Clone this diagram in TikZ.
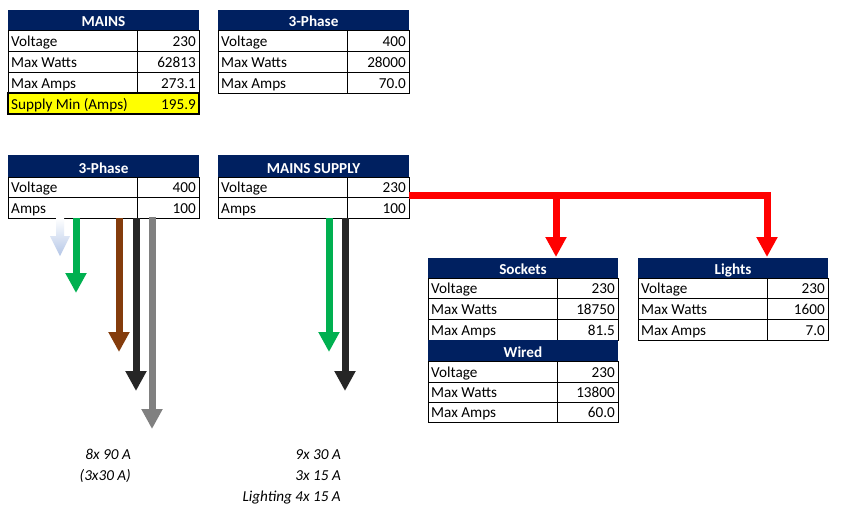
\documentclass[tikz,border=0pt]{standalone}
\usepackage{fontspec}
\setmainfont{Carlito}
\usetikzlibrary{arrows.meta}
\definecolor{navy}{HTML}{002060}
\definecolor{xgreen}{HTML}{00B050}
\definecolor{xbrown}{HTML}{843C0C}
\definecolor{xblack}{HTML}{262626}
\definecolor{xgray}{HTML}{808080}
\definecolor{xblue}{HTML}{B4C6E7}
\definecolor{xyellow}{HTML}{FFFF00}
\definecolor{xred}{HTML}{FF0000}
% header: name, x1, x2, ytop, ybot, title
\newcommand{\thead}[6]{\fill[navy] (#2,#4) rectangle (#3,#5);
  \node[hdrtext] (#1) at ({(#2+#3)/2},#5-4) {#6};}
% row: name, x1, xdiv, x2, ytop, ybot, label, value
\newcommand{\trow}[8]{\draw[cell] (#2,#5) rectangle (#4,#6);
  \draw[cell] (#3,#5) -- (#3,#6);
  \node[lbl] (#1l) at (#2+3,#6-4.5) {#7};
  \node[val] (#1v) at (#4-3,#6-4.5) {#8};}
\begin{document}
\begin{tikzpicture}[x=1pt,y=-1pt,
  cell/.style={draw=black, line width=0.9pt},
  hdrtext/.style={anchor=base, text=white, inner sep=0pt, font=\fontsize{15.2}{17}\selectfont\bfseries},
  lbl/.style={anchor=base west, inner sep=0pt, font=\fontsize{15.2}{17}\selectfont},
  val/.style={anchor=base east, inner sep=0pt, font=\fontsize{15.2}{17}\selectfont},
  note/.style={anchor=base east, inner sep=0pt, font=\fontsize{15.2}{17}\selectfont\itshape},
  wire/.style={line width=7pt, -{Triangle[width=20pt,length=20pt]}},
  feed/.style={line width=7pt, draw=xred, -{Triangle[width=20pt,length=20pt]}},
]
\useasboundingbox (0,0) rectangle (851,523);
\fill[white] (0,0) rectangle (851,523);

% ---- MAINS (top left)
\thead{mainsH}{8}{199}{10}{30}{MAINS}
\trow{mA}{8}{137}{199}{30}{51}{Voltage}{230}
\trow{mB}{8}{137}{199}{51}{72}{Max Watts}{62813}
\trow{mC}{8}{137}{199}{72}{93}{Max Amps}{273.1}
\filldraw[fill=xyellow, draw=black, line width=1.6pt] (8,93) rectangle (199,114);
\node[lbl] (mDl) at (11,109.5) {Supply Min (Amps)};
\node[val] (mDv) at (196,109.5) {195.9};

% ---- 3-Phase (top right)
\thead{tpH}{218}{409}{10}{30}{3-Phase}
\trow{tA}{218}{347}{409}{30}{51}{Voltage}{400}
\trow{tB}{218}{347}{409}{51}{72}{Max Watts}{28000}
\trow{tC}{218}{347}{409}{72}{93}{Max Amps}{70.0}

% ---- 3-Phase (supply)
\thead{tsH}{8}{199}{155}{177}{3-Phase}
\trow{sA}{8}{137}{199}{177}{197}{Voltage}{400}
\trow{sB}{8}{137}{199}{197}{218}{Amps}{100}

% ---- MAINS SUPPLY
\thead{msH}{218}{409}{155}{177}{MAINS SUPPLY}
\trow{nA}{218}{347}{409}{177}{197}{Voltage}{230}
\trow{nB}{218}{347}{409}{197}{218}{Amps}{100}

% ---- Sockets / Wired
\thead{sockH}{428}{618}{258}{278}{Sockets}
\trow{kA}{428}{557}{618}{278}{298}{Voltage}{230}
\trow{kB}{428}{557}{618}{298}{319}{Max Watts}{18750}
\trow{kC}{428}{557}{618}{319}{340}{Max Amps}{81.5}
\thead{wiredH}{428}{618}{340}{361}{Wired}
\trow{wA}{428}{557}{618}{361}{382}{Voltage}{230}
\trow{wB}{428}{557}{618}{382}{402}{Max Watts}{13800}
\trow{wC}{428}{557}{618}{402}{422}{Max Amps}{60.0}

% ---- Lights
\thead{lightH}{638}{828}{258}{278}{Lights}
\trow{lA}{638}{767}{828}{278}{298}{Voltage}{230}
\trow{lB}{638}{767}{828}{298}{319}{Max Watts}{1600}
\trow{lC}{638}{767}{828}{319}{340}{Max Amps}{7.0}

% ---- red feeds
\coordinate (msout) at (409,195);
\coordinate (sockin) at (556,257);
\coordinate (lightin) at (767,257);
\draw[feed] (msout) -| (lightin);
\draw[feed] (msout -| sockin) -- (sockin);

% ---- 3-phase wires
\shade[top color=white, bottom color=xblue]
  (56,218) -- (64,218) -- (64,236) -- (70,236) -- (60,256) -- (50,236) -- (56,236) -- cycle;
\coordinate (g1s) at (76,218);  \coordinate (g1e) at (76,293);
\coordinate (b1s) at (119,218); \coordinate (b1e) at (119,352);
\coordinate (k1s) at (136,218); \coordinate (k1e) at (136,391);
\coordinate (y1s) at (152,217); \coordinate (y1e) at (152,429);
\draw[wire, draw=xgreen, fill=xgreen] (g1s) -- (g1e);
\draw[wire, draw=xbrown, fill=xbrown] (b1s) -- (b1e);
\draw[wire, draw=xblack, fill=xblack] (k1s) -- (k1e);
\draw[wire, draw=xgray, fill=xgray] (y1s) -- (y1e);

% ---- mains wires
\coordinate (g2s) at (329,218); \coordinate (g2e) at (329,352);
\coordinate (k2s) at (345,218); \coordinate (k2e) at (345,391);
\draw[wire, draw=xgreen, fill=xgreen] (g2s) -- (g2e);
\draw[wire, draw=xblack, fill=xblack] (k2s) -- (k2e);

% ---- notes
\node[note] (n1) at (131,459) {8x 90 A};
\node[note] (n2) at (131,480) {(3x30 A)};
\node[note] (n3) at (341,459) {9x 30 A};
\node[note] (n4) at (341,480) {3x 15 A};
\node[note] (n5) at (341,501) {Lighting 4x 15 A};
\end{tikzpicture}
\end{document}
